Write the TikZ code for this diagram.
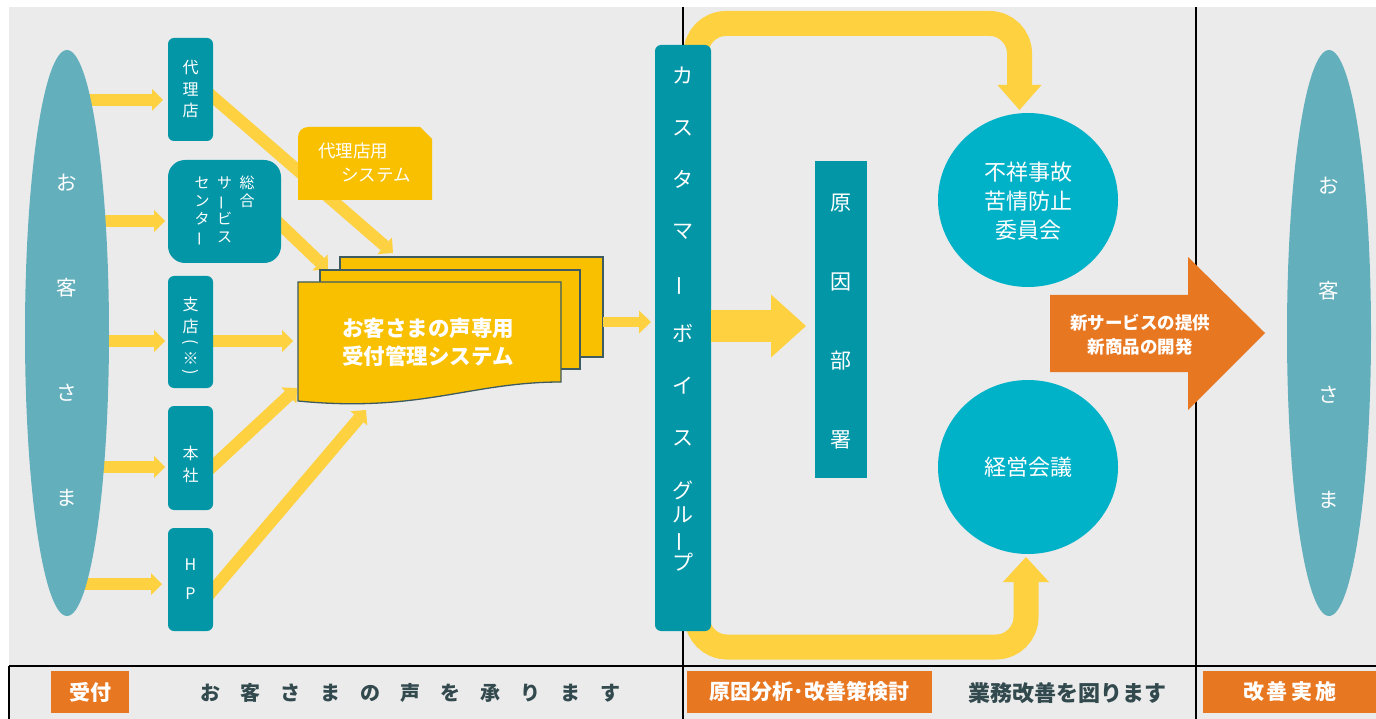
\documentclass[tikz,border=0pt]{standalone}
\usepackage{fontspec}
\setmainfont{Noto Sans CJK JP}
\usepackage{graphicx}
\usetikzlibrary{arrows.meta,shapes.geometric}
\definecolor{bgc}{HTML}{EBEBEB}
\definecolor{tealbox}{HTML}{0396A6}
\definecolor{ellc}{HTML}{64AFBC}
\definecolor{cyanc}{HTML}{00B2C8}
\definecolor{yarr}{HTML}{FED141}
\definecolor{ybox}{HTML}{F9C000}
\definecolor{orng}{HTML}{E87722}
\definecolor{dtext}{HTML}{32494E}
\definecolor{docline}{HTML}{3D5B60}
\newcommand{\tatebo}{\rotatebox[origin=c]{90}{ー}}
\newcommand{\tateL}{\rotatebox[origin=c]{-90}{(}}
\newcommand{\tateR}{\rotatebox[origin=c]{-90}{)}}
\begin{document}
\begin{tikzpicture}[x=1pt,y=-1pt,
  tbox/.style={fill=tealbox, rounded corners=6pt, inner sep=0pt, text=white, align=center},
  yarrow/.style={draw=yarr, line width=12pt, line cap=butt, -{Triangle[width=22pt,length=11pt,line width=0pt]}},
  wtext/.style={text=white, align=center, inner sep=0pt},
  obox/.style={fill=orng, text=white, inner sep=0pt, font=\fontsize{21}{24}\selectfont\bfseries},
  docl/.style={fill=ybox, draw=docline, line width=1.3pt},
  bline/.style={draw=black, line width=2pt},
]
\useasboundingbox (0,0) rectangle (1376,719);
\fill[white] (0,0) rectangle (1376,719);
\fill[bgc] (9,7) rectangle (1376,719);
% frame lines
\coordinate (hl) at (9,666); \coordinate (hr) at (1376,666);
\coordinate (bl) at (9,719);
\coordinate (v1t) at (683,7); \coordinate (v1b) at (683,719);
\coordinate (v2t) at (1196,7); \coordinate (v2b) at (1196,719);
\draw[bline] (hl) -- (hr);
\draw[bline] (hl) -- (bl);
\draw[bline] (v1t) -- (v1b);
\draw[bline] (v2t) -- (v2b);

% U-shaped arrows (behind the bar)
\coordinate (u1s) at (696,80); \coordinate (u1a) at (696,23.5);
\coordinate (u1b) at (1019.5,23.5); \coordinate (u1e) at (1019.5,110);
\draw[draw=yarr, line width=25pt, rounded corners=30pt, -{Triangle[width=44pt,length=25pt,line width=0pt]}]
  (u1s) -- (u1a) -- (u1b) -- (u1e);
\coordinate (u2s) at (697,600); \coordinate (u2a) at (697,647);
\coordinate (u2b) at (1026,647); \coordinate (u2e) at (1026,557);
\draw[draw=yarr, line width=25pt, rounded corners=30pt, -{Triangle[width=46pt,length=25pt,line width=0pt]}]
  (u2s) -- (u2a) -- (u2b) -- (u2e);

% arrows customer -> channels
\coordinate (cL) at (67,333);
\coordinate (e1) at (163,100);
\coordinate (e2) at (165,221);
\coordinate (e3) at (165,341);
\coordinate (e4) at (165,467);
\coordinate (e5) at (162,584);
\draw[yarrow] (cL |- e1) -- (e1);
\draw[yarrow] (cL |- e2) -- (e2);
\draw[yarrow] (cL |- e3) -- (e3);
\draw[yarrow] (cL |- e4) -- (e4);
\draw[yarrow] (cL |- e5) -- (e5);

% diagonal arrows channels -> system
\coordinate (d1s) at (200,85.7); \coordinate (d1e) at (393,253);
\coordinate (d2s) at (268,212.6); \coordinate (d2e) at (328,270);
\coordinate (d3s) at (200,341); \coordinate (d3e) at (293,341);
\coordinate (d4s) at (203,475.3); \coordinate (d4e) at (297,388);
\coordinate (d5s) at (203,601.8); \coordinate (d5e) at (366,410);
\draw[yarrow] (d1s) -- (d1e);
\draw[yarrow] (d2s) -- (d2e);
\draw[yarrow] (d3s) -- (d3e);
\draw[yarrow] (d4s) -- (d4e);
\draw[yarrow] (d5s) -- (d5e);

% left customer ellipse
\node[ellipse, fill=ellc, minimum width=84pt, minimum height=566pt, inner sep=0pt] (cusL) at (cL) {};
\node[wtext, font=\fontsize{20.5}{105}\selectfont] (cusLt) at (67,340) {お\\客\\さ\\ま};

% channel boxes
\node[tbox, minimum width=45pt, minimum height=103pt, font=\fontsize{16}{21.5}\selectfont] (dairi) at (190.5,89.5) {代\\理\\店};
\node[tbox, rounded corners=17pt, minimum width=113pt, minimum height=103pt, font=\fontsize{15}{18}\selectfont] (sogo) at (224.5,211.5)
  {\begin{tabular}{@{}c@{\hspace{7.5pt}}c@{\hspace{7.5pt}}c@{}}セ & サ & 総\\ ン & \tatebo & 合\\ タ & ビ & \\ \tatebo & ス & \end{tabular}};
\node[tbox, minimum width=45pt, minimum height=112pt] (shiten) at (190.5,332) {};
\node[wtext, font=\fontsize{16}{22}\selectfont] (shitent) at (190.5,337) {支\\店\\[-7pt]\tateL\\[-5pt]※\\[-9pt]\tateR};
\node[tbox, minimum width=45pt, minimum height=104pt] (honsha) at (190.5,458) {};
\node[wtext, font=\fontsize{16}{22}\selectfont] (honshat) at (190.5,464) {本\\社};
\node[tbox, minimum width=45pt, minimum height=103pt, font=\fontsize{16}{29}\selectfont] (hp) at (190.5,579.5) {H\\P};

% agency system box
\fill[ybox] (298,200) [rounded corners=10pt] -- (298,127) [sharp corners] -- (420,127) -- (432,139) -- (432,200) -- cycle;
\node[text=white, align=left, inner sep=0pt, anchor=west, font=\fontsize{17.5}{24}\selectfont] (dsys) at (318,163) {代理店用\\\hspace{23pt}システム};

% document stack
\path[docl] (340,257) rectangle (603,357);
\path[docl] (320,270) rectangle (580,369);
\path[docl] (298,282) -- (561,282) -- (561,382) .. controls (470,382) and (420,413) .. (298,401) -- cycle;
\node[wtext, font=\fontsize{21.5}{28}\selectfont\bfseries] (docsys) at (428,342) {お客さまの声専用\\受付管理システム};

% arrow stack -> bar
\coordinate (s1) at (603,322); \coordinate (s2) at (651,322);
\draw[draw=yarr, line width=10pt, -{Triangle[width=23pt,length=12pt,line width=0pt]}] (s1) -- (s2);

% customer voice group bar
\node[tbox, minimum width=56pt, minimum height=586pt] (cvg) at (683,338) {};
\node[wtext, font=\fontsize{21}{51.6}\selectfont] (cvg1) at (683,256.5) {カ\\ス\\タ\\マ\\\tatebo\\ボ\\イ\\ス};
\node[wtext, font=\fontsize{21}{24}\selectfont] (cvg2) at (683,526) {グ\\ル\\\tatebo\\プ};

% cause department
\node[fill=tealbox, minimum width=52pt, minimum height=317pt, inner sep=0pt] (gen) at (841,319.5) {};
\node[wtext, font=\fontsize{21}{79}\selectfont] (gent) at (841,321.5) {原\\因\\部\\署};
\coordinate (g1) at (806,326);
\draw[draw=yarr, line width=32pt, -{Triangle[width=63pt,length=35pt,line width=0pt]}] (cvg.east |- g1) -- (g1);

% circles
\node[ellipse, fill=cyanc, minimum width=180pt, minimum height=174pt, inner sep=0pt] (fush) at (1028,200) {};
\node[wtext, font=\fontsize{22}{29}\selectfont] (fusht) at (1028,201) {不祥事故\\苦情防止\\委員会};
\node[ellipse, fill=cyanc, minimum width=180pt, minimum height=174pt, inner sep=0pt] (keiei) at (1028,467) {};
\node[wtext, font=\fontsize{22}{29}\selectfont] (keieit) at (1028,467) {経営会議};

% orange big arrow
\fill[orng] (1050,295) -- (1188,295) -- (1188,257) -- (1265,333) -- (1188,410) -- (1188,372) -- (1050,372) -- cycle;
\node[wtext, font=\fontsize{17.5}{24}\selectfont\bfseries] (newsvc) at (1140,335) {新サービスの提供\\新商品の開発};

% right customer ellipse
\node[ellipse, fill=ellc, minimum width=84pt, minimum height=566pt, inner sep=0pt] (cusR) at (1329,333) {};
\node[wtext, font=\fontsize{20.5}{104.5}\selectfont] (cusRt) at (1329,343) {お\\客\\さ\\ま};

% bottom row
\node[obox, minimum width=78pt, minimum height=42pt] (uketsuke) at (90,692) {受付};
\node[text=dtext, inner sep=0pt, font=\fontsize{20}{24}\selectfont\bfseries] (voice) at (410,693) {お　客　さ　ま　の　声　を　承　り　ま　す};
\node[obox, minimum width=245pt, minimum height=42pt] (genin) at (809.5,692) {原因分析･改善策検討};
\node[text=dtext, inner sep=0pt, font=\fontsize{22}{24}\selectfont\bfseries] (gyomu) at (1067,693) {業務改善を図ります};
\node[obox, minimum width=173pt, minimum height=42pt] (kaizen) at (1289.5,692) {改\hspace{3pt}善\hspace{3pt}実\hspace{3pt}施};
\end{tikzpicture}
\end{document}
